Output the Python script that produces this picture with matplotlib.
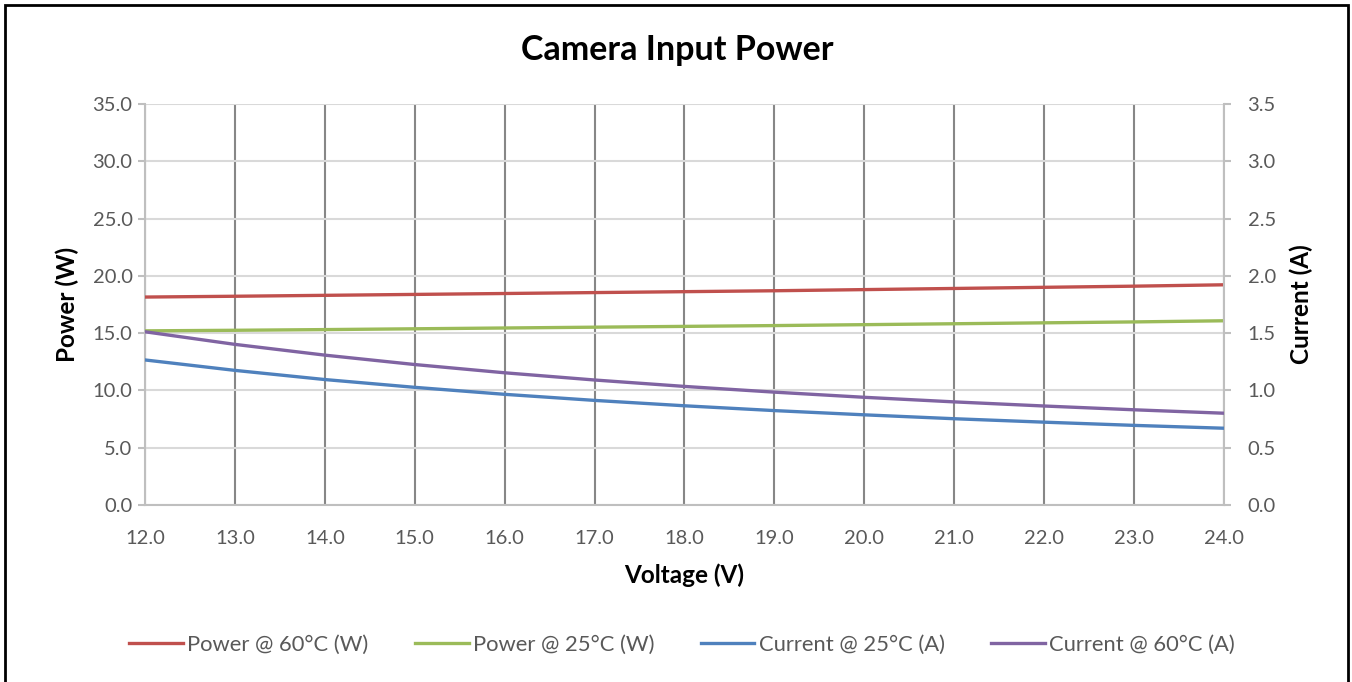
import matplotlib
matplotlib.use("Agg")
import matplotlib.pyplot as plt
from matplotlib.patches import Rectangle

plt.rcParams['font.family'] = ['Lato', 'DejaVu Sans']

voltage = [12, 13, 14, 15, 16, 17, 18, 19, 20, 21, 22, 23, 24]
power_60 = [18.15, 18.22, 18.30, 18.38, 18.46, 18.54, 18.62, 18.70, 18.80, 18.90, 19.00, 19.10, 19.22]
power_25 = [15.20, 15.25, 15.31, 15.38, 15.45, 15.52, 15.59, 15.66, 15.74, 15.82, 15.90, 15.98, 16.08]
current_25 = [1.266, 1.175, 1.095, 1.027, 0.966, 0.913, 0.866, 0.824, 0.787, 0.753, 0.723, 0.695, 0.670]
current_60 = [1.512, 1.402, 1.308, 1.226, 1.154, 1.091, 1.035, 0.985, 0.940, 0.900, 0.864, 0.831, 0.801]

x_ticks = [12, 13, 14, 15, 16, 17, 18, 19, 20, 21, 22, 23, 24]
p_ticks = [0, 5, 10, 15, 20, 25, 30, 35]
c_ticks = [0, 0.5, 1.0, 1.5, 2.0, 2.5, 3.0, 3.5]

RED = '#c0504d'
GREEN = '#9bbb59'
BLUE = '#4f81bd'
PURPLE = '#8064a2'
TXT = '#595959'

W, H = 1352, 682
fig = plt.figure(figsize=(W / 100, H / 100), dpi=100)
ax = fig.add_axes([145 / W, 1 - 505 / H, (1224 - 145) / W, (505 - 104) / H])
ax2 = ax.twinx()

lw = 2.4
l1, = ax.plot(voltage, power_60, color=RED, lw=lw, label='Power @ 60°C (W)', zorder=3)
l2, = ax.plot(voltage, power_25, color=GREEN, lw=lw, label='Power @ 25°C (W)', zorder=3)
l3, = ax2.plot(voltage, current_25, color=BLUE, lw=lw, label='Current @ 25°C (A)', zorder=3)
l4, = ax2.plot(voltage, current_60, color=PURPLE, lw=lw, label='Current @ 60°C (A)', zorder=3)

ax.set_xlim(12, 24)
ax.set_ylim(0, 35)
ax2.set_ylim(0, 3.5)
ax.set_xticks(x_ticks)
ax.set_xticklabels([f'{v:.1f}' for v in x_ticks])
ax.set_yticks(p_ticks)
ax.set_yticklabels([f'{v:.1f}' for v in p_ticks])
ax2.set_yticks(c_ticks)
ax2.set_yticklabels([f'{v:.1f}' for v in c_ticks])

ax.grid(axis='y', color='#d9d9d9', lw=1.5, zorder=0)
ax.grid(axis='x', color='#878787', lw=1.5, zorder=0)
ax.set_axisbelow(True)

for a in (ax, ax2):
    for s in a.spines.values():
        s.set_visible(False)
ax.spines['left'].set_visible(True)
ax.spines['bottom'].set_visible(True)
ax2.spines['right'].set_visible(True)
for s in (ax.spines['left'], ax.spines['bottom'], ax2.spines['right']):
    s.set_color('#bfbfbf')
    s.set_linewidth(1.5)

TS = 14.5
ax.tick_params(axis='x', length=0, labelsize=TS, labelcolor=TXT, pad=18)
ax.tick_params(axis='y', length=5, color='#bfbfbf', width=1.5, labelsize=TS, labelcolor=TXT, pad=4)
ax2.tick_params(axis='y', length=5, color='#bfbfbf', width=1.5, labelsize=TS, labelcolor=TXT, pad=12)

ax.set_xlabel('Voltage (V)', fontsize=17.5, fontweight='bold', labelpad=12)
ax.set_ylabel('Power (W)', fontsize=17.5, fontweight='bold', labelpad=10)
ax2.set_ylabel('Current (A)', fontsize=17.5, fontweight='bold', labelpad=10)

fig.text(677 / W, 1 - 50 / H, 'Camera Input Power', ha='center', va='center',
         fontsize=24.5, fontweight='bold')

fig.legend(handles=[l1, l2, l3, l4], loc='center', bbox_to_anchor=(682 / W, 1 - 645 / H),
           ncol=4, frameon=False, fontsize=15.8, labelcolor=TXT, handlelength=2.45,
           handletextpad=0.2, columnspacing=2.1)

fig.patches.append(Rectangle((5 / W, -0.05), (1348 - 5) / W, 1 - 5 / H + 0.05,
                             transform=fig.transFigure, fill=False, ec='black', lw=2))

fig.savefig('out.png', dpi=100)
